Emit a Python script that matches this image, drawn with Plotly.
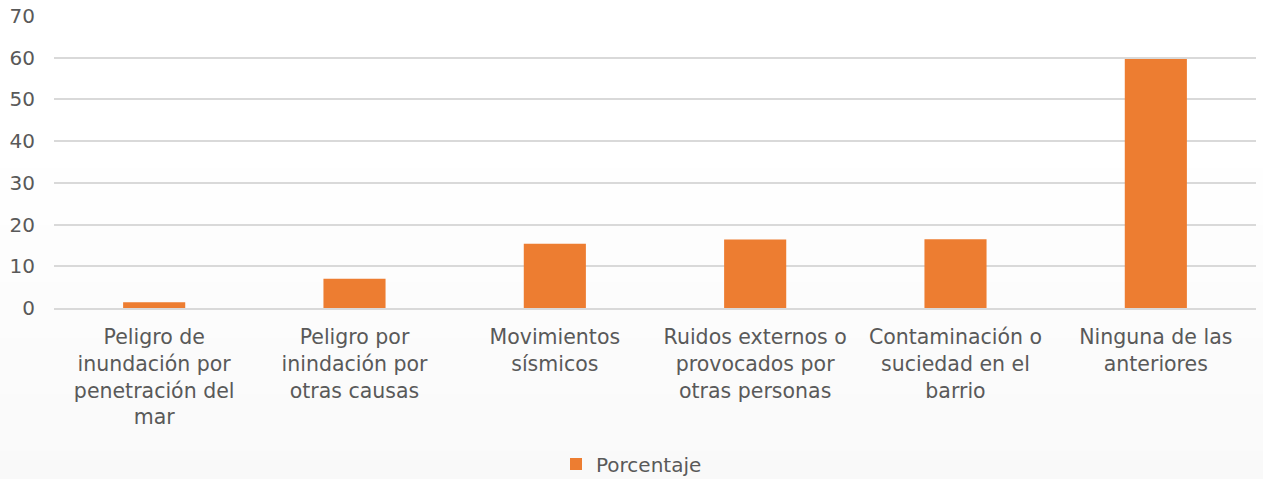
import plotly.graph_objects as go

categories = [
    "Peligro de<br>inundación por<br>penetración del<br>mar",
    "Peligro por<br>inindación por<br>otras causas",
    "Movimientos<br>sísmicos",
    "Ruidos externos o<br>provocados por<br>otras personas",
    "Contaminación o<br>suciedad en el<br>barrio",
    "Ninguna de las<br>anteriores",
]
values = [1.4, 7.0, 15.4, 16.4, 16.5, 59.7]
series_name = "Porcentaje"
y_ticks = [0, 10, 20, 30, 40, 50, 60, 70]

FONT = "DejaVu Sans"
GREY = "#595959"
W, H = 1263, 479
ML, MR, MT, MB = 54, 7, 16, 171
PH = H - MT - MB

fig = go.Figure()
fig.add_trace(go.Bar(
    x=categories, y=values, name=series_name,
    marker=dict(color="#ED7D31", line=dict(width=0)),
    showlegend=True,
))

# subtle vertical background gradient (white -> light grey)
shapes = []
n = 24
top_px = 140.0
for i in range(n):
    p0 = top_px + (H - top_px) * i / n
    p1 = top_px + (H - top_px) * (i + 1) / n + 1
    t = (i + 0.5) / n
    v = int(round(255 - 6 * t))
    shapes.append(dict(type="rect", xref="paper", yref="paper",
                       x0=-0.1, x1=1.1,
                       y0=1 - (p1 - MT) / PH, y1=1 - (p0 - MT) / PH,
                       fillcolor=f"rgb({v},{v},{v})", line=dict(width=0), layer="below"))

fig.update_layout(
    width=W, height=H,
    margin=dict(l=ML, r=MR, t=MT, b=MB, autoexpand=False),
    paper_bgcolor="white",
    plot_bgcolor="rgba(0,0,0,0)",
    font=dict(family=FONT, size=20.5, color=GREY),
    bargap=0.69,
    shapes=shapes,
    legend=dict(orientation="h", x=0.5, xanchor="center", xref="container",
                y=(H - 464) / H, yanchor="middle", yref="container",
                bgcolor="rgba(0,0,0,0)",
                font=dict(family=FONT, size=20, color=GREY), itemwidth=30),
    xaxis=dict(showgrid=False, showline=True, linecolor="#D9D9D9", linewidth=1.5,
               ticks="", tickfont=dict(family=FONT, size=20.5, color=GREY), tickangle=0,
               automargin=False, ticklabelstandoff=10),
    yaxis=dict(range=[0, 70], tickvals=y_ticks, showgrid=True, gridcolor="#D9D9D9",
               gridwidth=1.5, zeroline=False, showline=False, ticks="", automargin=False,
               tickfont=dict(family=FONT, size=20, color=GREY), ticklabelstandoff=18),
)

fig.write_html("out.html", config={"displayModeBar": False},
               post_script="document.body.style.margin='0';document.body.style.overflow='hidden';")
